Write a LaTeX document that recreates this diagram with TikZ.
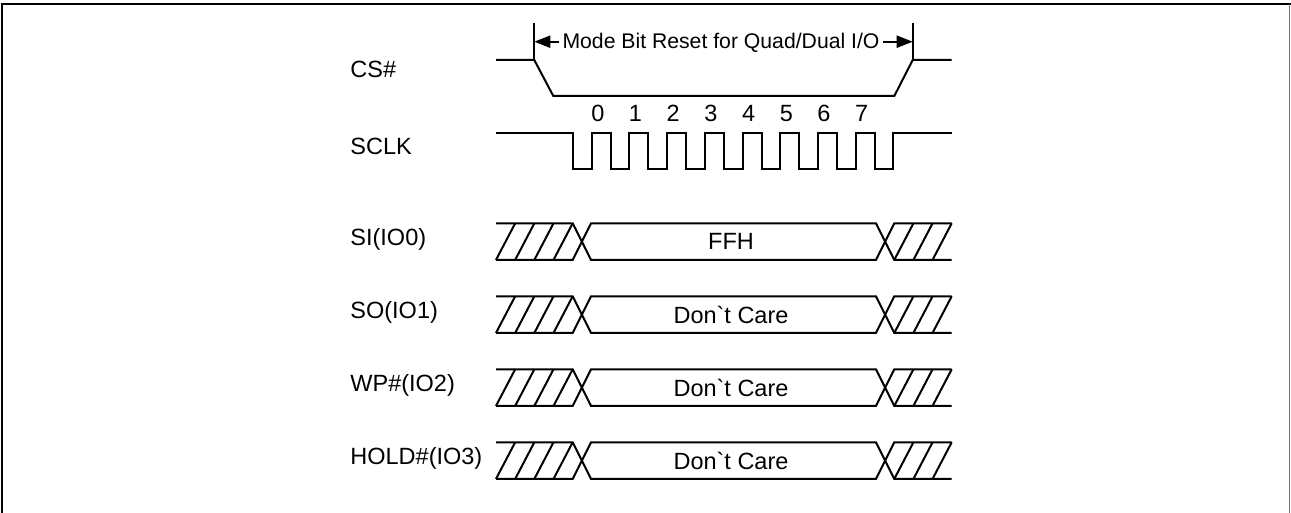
\documentclass[tikz,border=0pt]{standalone}
\usepackage{fontspec}
\setmainfont{Liberation Sans}[Ligatures=TeXOff]
\usetikzlibrary{arrows.meta}
\begin{document}
\begin{tikzpicture}[x=0.5pt,y=-0.5pt,
  wave/.style={line width=1pt, line join=miter},
  lbl/.style={anchor=base west, inner sep=0pt, font=\fontsize{11.75}{14}\selectfont},
  num/.style={inner sep=0pt, font=\fontsize{11.75}{14}\selectfont},
  dtxt/.style={inner sep=0pt, font=\fontsize{11.75}{14}\selectfont},
  mtxt/.style={inner xsep=1.5pt, inner ysep=0pt, font=\fontsize{10.6}{13}\selectfont},
  marr/.style={line width=1pt, -{Triangle[length=8pt,width=6pt]}},
  frame/.style={line width=1pt}]
\useasboundingbox (0,0) rectangle (1291,513);
% frame
\draw[frame] (2,513) -- (2,4.5) -- (1291,4.5);
\draw[line width=0.6pt, black!55] (1289.8,4.5) -- (1289.8,513);
% labels
\node[lbl] (lcs) at (350,78) {CS\#};
\node[lbl] (lsclk) at (350,155) {SCLK};
% CS#
\draw[wave] (496,60) -- (534.3,60) -- (553.3,96) -- (894.3,96) -- (912.7,60) -- (951.7,60);
\draw[wave] (534.3,22.7) -- (534.3,60);
\draw[wave] (912.7,22.7) -- (912.7,60);
\coordinate (mL) at (534.3,41.7);
\coordinate (mR) at (912.7,41.7);
\node[mtxt, anchor=base] (mode) at (721,48.3) {Mode Bit Reset for Quad/Dual I/O};
\draw[marr] (mL -| mode.west) -- (mL);
\draw[marr] (mR -| mode.east) -- (mR);
% SCLK
\draw[wave] (496,132.7) -- (572.7,132.7) -- (572.7,169)
  \foreach \k in {0,...,7}{ -- ({591.7+37.7*\k},169) -- ({591.7+37.7*\k},132.7)
     -- ({610.7+37.7*\k},132.7) -- ({610.7+37.7*\k},169) }
  -- (892.7,169) -- (892.7,132.7) -- (951.7,132.7);
\foreach \k in {0,...,7} \node[num] (n\k) at ({597.8+37.7*\k},113.5) {\k};
% bus rows
\foreach \i/\lab/\txt/\nm in {0/SI(IO0)/FFH/si, 1/SO(IO1)/Don`t Care/so, 2/WP\#(IO2)/Don`t Care/wp, 3/HOLD\#(IO3)/Don`t Care/hold}{
  \pgfmathsetmacro{\T}{223.3+73*\i}
  \pgfmathsetmacro{\B}{\T+36.6}
  \draw[wave] (496,\T) -- (572.7,\T) -- (591,\B) -- (876,\B) -- (894.3,\T) -- (951.7,\T);
  \draw[wave] (496,\B) -- (572.7,\B) -- (591,\T) -- (876,\T) -- (894.3,\B) -- (951.7,\B);
  \foreach \j in {0,...,3} \draw[wave] ({496+19.17*\j},\B) -- ({515.17+19.17*\j},\T);
  \foreach \j in {0,...,2} \draw[wave] ({894.3+19.13*\j},\B) -- ({913.43+19.13*\j},\T);
  \node[lbl] (l\nm) at (350,{\T+22.4}) {\lab};
  \node[dtxt] (d\nm) at (731,{\T+18.3}) {\txt};
}
\end{tikzpicture}
\end{document}
